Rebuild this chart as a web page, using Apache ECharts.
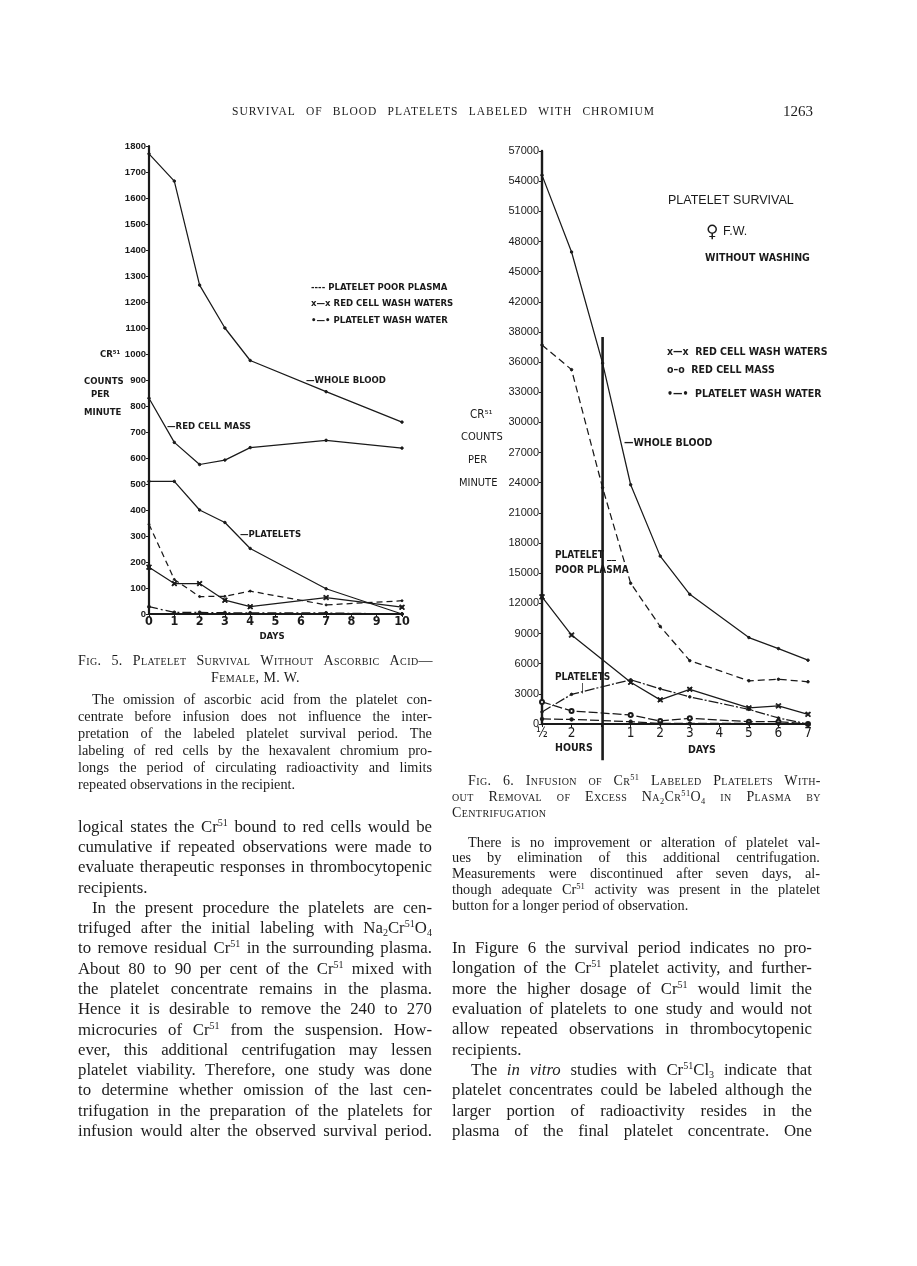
<!DOCTYPE html>
<html><head><meta charset="utf-8">
<script src="https://cdn.jsdelivr.net/npm/echarts@6/dist/echarts.min.js"></script>
<style>
html,body{margin:0;padding:0;background:#fff;}
#page{position:relative;width:917px;height:1266px;overflow:hidden;background:#fff;}
#chart{position:absolute;left:0;top:0;width:917px;height:1266px;}
.txt{position:absolute;font-family:"Liberation Serif","DejaVu Serif",serif;color:#1c1c1c;white-space:nowrap;}
.txt span{white-space:nowrap;}
sup{font-size:0.6em;vertical-align:0.6em;line-height:0;}
sub{font-size:0.6em;vertical-align:-0.3em;line-height:0;}
</style></head><body>
<div id="page"><div id="chart"></div><div id="text"></div></div>
<script>
// ---------------- Fig. 5 data ----------------
const fig5Days = [0, 1, 2, 3, 4, 7, 10];
const fig5WholeBlood = [1770, 1665, 1265, 1100, 975, 855, 738];
const fig5RedCellMass = [830, 660, 575, 592, 640, 668, 638];
const fig5Platelets = [510, 510, 400, 352, 252, 97, 0];
const fig5PoorPlasma = [345, 133, 67, 68, 88, 35, 51];
const fig5RedCellWash = [180, 117, 117, 53, 28, 63, 26];
const fig5PlateletWash = [28, 6, 6, 5, 4, 4, 0];
const fig5YLabels = ['0','100','200','300','400','500','600','700','800','900','1000','1100','1200','1300','1400','1500','1600','1700','1800'];
const fig5XLabels = ['0','1','2','3','4','5','6','7','8','9','10'];

// ---------------- Fig. 6 data ----------------
// x positions: 0 = 1/2 hour, 1 = 2 hours, separator, 3..9 = days 1..7
const fig6XTickPos = [0, 1, 3, 4, 5, 6, 7, 8, 9];
const fig6XTickLabels = ['½', '2', '1', '2', '3', '4', '5', '6', '7'];
const fig6SeparatorX = [2.05, 2.05];
const fig6SeparatorY = [38500, -3600];
const fig6EarlyX = [0, 1, 2.05, 3, 4, 5, 7, 8, 9];
const fig6WholeBlood = [54600, 46950, 35900, 23800, 16700, 12900, 8600, 7500, 6350];
const fig6PoorPlasma = [37700, 35250, 23500, 14000, 9700, 6300, 4300, 4450, 4200];
const fig6X = [0, 1, 3, 4, 5, 7, 8, 9];
const fig6RedCellWash = [12650, 8850, 4150, 2400, 3450, 1600, 1800, 960];
const fig6Platelets = [1200, 2950, 4400, 3500, 2700, 1450, 600, 0];
const fig6RedCellMass = [2200, 1300, 900, 300, 560, 230, 230, 0];
const fig6PlateletWash = [500, 460, 230, 50, 50, 50, 30, 0];
const fig6YLabels = ['0','3000','6000','9000','12000','15000','18000','21000','24000','27000','30000','33000','36000','38000','42000','45000','48000','51000','54000','57000'];

const INK = '#1a1a1a';
const NARROW = '"Liberation Sans Narrow","DejaVu Sans Condensed","Liberation Sans",sans-serif';
const SANS = '"Liberation Sans","DejaVu Sans",sans-serif';
const X_SYMBOL = 'path://M0,0L2,0L10,8L10,10L8,10L0,2Z M8,0L10,0L10,2L2,10L0,10L0,8Z';

function zip(xs, ys) { return xs.map((x, i) => [x, ys[i]]); }
function ser(name, g, xs, ys, type, symbol, size, extra) {
  return Object.assign({
    type: 'line', name: name, xAxisIndex: g, yAxisIndex: g,
    data: zip(xs, ys), symbol: symbol, symbolSize: size, showSymbol: symbol !== 'none',
    lineStyle: { color: INK, width: 1.25, type: type },
    itemStyle: { color: INK, borderColor: INK, borderWidth: 1 },
    emphasis: { disabled: true }, silent: true, animation: false, z: 3
  }, extra || {});
}
function lbl(x, y, text, font, align) {
  return { type: 'text', x: x, y: y, silent: true,
    style: { text: text, font: font, fill: INK, align: align || 'left', verticalAlign: 'middle' } };
}

const chart = echarts.init(document.getElementById('chart'));
const option = {
  backgroundColor: 'transparent',
  animation: false,
  grid: [
    { left: 149, top: 146, width: 253, height: 468 },
    { left: 542, top: 151, width: 266, height: 573 }
  ],
  xAxis: [
    { gridIndex: 0, type: 'value', min: 0, max: 10, interval: 1,
      axisLine: { lineStyle: { color: INK, width: 2 } },
      axisTick: { show: true, length: 3, lineStyle: { color: INK } },
      splitLine: { show: false },
      axisLabel: { margin: 1, color: INK, fontFamily: NARROW, fontWeight: 'bold', fontSize: 12.5,
        formatter: v => fig5XLabels[Math.round(v)] || '' } },
    { gridIndex: 1, type: 'value', min: 0, max: 9, interval: 1,
      axisLine: { lineStyle: { color: INK, width: 2 } },
      axisTick: { show: true, length: 3, lineStyle: { color: INK } },
      splitLine: { show: false },
      axisLabel: { margin: 2, color: INK, fontFamily: NARROW, fontSize: 13.5,
        formatter: v => { const i = fig6XTickPos.indexOf(Math.round(v * 100) / 100); return i >= 0 ? fig6XTickLabels[i] : ''; } } }
  ],
  yAxis: [
    { gridIndex: 0, type: 'value', min: 0, max: 1800, interval: 100,
      axisLine: { show: true, lineStyle: { color: INK, width: 2.2 } },
      axisTick: { show: true, length: 3, lineStyle: { color: INK } },
      splitLine: { show: false },
      axisLabel: { margin: 3, color: INK, fontFamily: SANS, fontWeight: 'bold', fontSize: 9.5,
        formatter: v => fig5YLabels[Math.round(v / 100)] || '' } },
    { gridIndex: 1, type: 'value', min: 0, max: 57000, interval: 3000,
      axisLine: { show: true, lineStyle: { color: INK, width: 2.4 } },
      axisTick: { show: true, length: 3, lineStyle: { color: INK } },
      splitLine: { show: false },
      axisLabel: { margin: 3, color: INK, fontFamily: SANS, fontSize: 11,
        formatter: v => fig6YLabels[Math.round(v / 3000)] || '' } }
  ],
  series: [
    ser('WHOLE BLOOD', 0, fig5Days, fig5WholeBlood, 'solid', 'circle', 2.5),
    ser('RED CELL MASS', 0, fig5Days, fig5RedCellMass, 'solid', 'circle', 2.5),
    ser('PLATELETS', 0, fig5Days, fig5Platelets, 'solid', 'circle', 2.5),
    ser('PLATELET POOR PLASMA', 0, fig5Days, fig5PoorPlasma, [6, 4], 'circle', 2),
    ser('RED CELL WASH WATERS', 0, fig5Days, fig5RedCellWash, 'solid', X_SYMBOL, 4.5),
    ser('PLATELET WASH WATER', 0, fig5Days, fig5PlateletWash, [9, 3, 2, 3], 'circle', 3),

    ser('WHOLE BLOOD', 1, fig6EarlyX, fig6WholeBlood, 'solid', 'circle', 2.5),
    ser('PLATELET POOR PLASMA', 1, fig6EarlyX, fig6PoorPlasma, [7, 4], 'circle', 2.5),
    ser('RED CELL WASH WATERS', 1, fig6X, fig6RedCellWash, 'solid', X_SYMBOL, 4.5),
    ser('PLATELETS', 1, fig6X, fig6Platelets, [10, 2, 2, 2], 'circle', 2.5),
    ser('RED CELL MASS', 1, fig6X, fig6RedCellMass, [9, 3], 'emptyCircle', 4),
    ser('PLATELET WASH WATER', 1, fig6X, fig6PlateletWash, [9, 3], 'circle', 3.5),
    ser('separator', 1, fig6SeparatorX, fig6SeparatorY, 'solid', 'none', 0,
      { clip: false, lineStyle: { color: INK, width: 2.6, type: 'solid' }, z: 4 })
  ],
  graphic: [
    // Fig. 5 annotations
    lbl(311, 288, '---- PLATELET POOR PLASMA', 'bold 9.5px ' + NARROW),
    lbl(311, 304, 'x—x RED CELL WASH WATERS', 'bold 9.5px ' + NARROW),
    lbl(311, 321, '•—• PLATELET WASH WATER', 'bold 9.5px ' + NARROW),
    lbl(306, 381, '—WHOLE BLOOD', 'bold 9.5px ' + NARROW),
    lbl(167, 427, '—RED CELL MASS', 'bold 9.5px ' + NARROW),
    lbl(240, 535, '—PLATELETS', 'bold 9.5px ' + NARROW),
    lbl(272, 637, 'DAYS', 'bold 9.5px ' + NARROW, 'center'),
    lbl(100, 355, 'CR⁵¹', 'bold 9.5px ' + NARROW),
    lbl(84, 382, 'COUNTS', 'bold 9.5px ' + NARROW),
    lbl(91, 395, 'PER', 'bold 9.5px ' + NARROW),
    lbl(84, 413, 'MINUTE', 'bold 9.5px ' + NARROW),
    // Fig. 6 annotations
    lbl(668, 201, 'PLATELET SURVIVAL', '12.5px ' + SANS),
    lbl(706, 233, '♀', 'bold 17px "DejaVu Sans",sans-serif'),
    lbl(723, 232, 'F.W.', '12.5px ' + SANS),
    lbl(705, 258, 'WITHOUT WASHING', 'bold 10.5px ' + NARROW),
    lbl(667, 352, 'x—x  RED CELL WASH WATERS', 'bold 10.5px ' + NARROW),
    lbl(667, 370, 'o–o  RED CELL MASS', 'bold 10.5px ' + NARROW),
    lbl(667, 394, '•—•  PLATELET WASH WATER', 'bold 10.5px ' + NARROW),
    lbl(624, 443, '—WHOLE BLOOD', 'bold 10.5px ' + NARROW),
    lbl(555, 555, 'PLATELET __', 'bold 10px ' + NARROW),
    lbl(555, 570, 'POOR PLASMA', 'bold 10px ' + NARROW),
    lbl(555, 677, 'PLATELETS', 'bold 10px ' + NARROW),
    lbl(581, 688, '|', '10px ' + NARROW),
    lbl(555, 748, 'HOURS', 'bold 10.5px ' + NARROW),
    lbl(688, 750, 'DAYS', 'bold 10.5px ' + NARROW),
    lbl(470, 415, 'CR⁵¹', '11.5px ' + NARROW),
    lbl(461, 437, 'COUNTS', '11px ' + NARROW),
    lbl(468, 460, 'PER', '11px ' + NARROW),
    lbl(459, 483, 'MINUTE', '11px ' + NARROW)
  ]
};
chart.setOption(option);

// ---------------- page text ----------------
const host = document.getElementById('text');
function block(spec) {
  spec.lines.forEach((raw, i) => {
    let h = raw, indent = 0, mode = 'justify';
    if (h.startsWith('>')) { indent = spec.indent || 14; h = h.slice(1); }
    if (h.endsWith('|')) { mode = 'left'; h = h.slice(0, -1); }
    if (h.startsWith('^')) { mode = 'center'; h = h.slice(1); }
    const d = document.createElement('div');
    d.className = 'txt';
    const cy = spec.y + i * spec.lh;
    d.style.top = (cy - spec.lh / 2 - 1) + 'px';
    d.style.height = spec.lh + 'px';
    d.style.lineHeight = spec.lh + 'px';
    d.style.fontSize = spec.fs + 'px';
    if (spec.variant) { d.style.fontVariant = 'small-caps'; }
    if (spec.ls) { d.style.letterSpacing = spec.ls + 'px'; }
    const x0 = spec.x + indent;
    d.style.left = x0 + 'px';
    if (mode === 'justify') {
      d.style.width = (spec.right - x0) + 'px';
      d.style.display = 'flex';
      d.style.justifyContent = 'space-between';
      d.style.columnGap = '0.18em';
      d.innerHTML = h.split(' ').filter(w => w.length).map(w => '<span>' + w + '</span>').join('');
    } else if (mode === 'center') {
      d.style.left = spec.x + 'px';
      d.style.width = (spec.right - spec.x) + 'px';
      d.style.textAlign = 'center';
      d.innerHTML = h;
    } else {
      d.innerHTML = h;
    }
    host.appendChild(d);
  });
}

block({ x: 232, right: 655, y: 112, lh: 16, fs: 11.5, ls: 1.0,
  lines: ['SURVIVAL OF BLOOD PLATELETS LABELED WITH CHROMIUM'] });
block({ x: 783, right: 820, y: 112, lh: 18, fs: 15, lines: ['1263|'] });

block({ x: 78, right: 433, y: 661, lh: 17, fs: 14, variant: true, ls: 0.4,
  lines: ['Fig. 5.  Platelet Survival Without Ascorbic Acid—', '^Female, M. W.'] });
block({ x: 78, right: 432, y: 700.5, lh: 16.9, fs: 14.3, indent: 14,
  lines: ['>The omission of ascorbic acid from the platelet con-',
          'centrate before infusion does not influence the inter-',
          'pretation of the labeled platelet survival period.  The',
          'labeling of red cells by the hexavalent chromium pro-',
          'longs the period of circulating radioactivity and limits',
          'repeated observations in the recipient.|'] });

block({ x: 452, right: 821, y: 782, lh: 16.1, fs: 14, variant: true, ls: 0.4, indent: 16,
  lines: ['>Fig. 6.  Infusion of Cr<sup>51</sup> Labeled Platelets With-',
          'out Removal of Excess Na<sub>2</sub>Cr<sup>51</sup>O<sub>4</sub> in Plasma by',
          'Centrifugation|'] });
block({ x: 452, right: 820, y: 843.5, lh: 15.9, fs: 14.3, indent: 16,
  lines: ['>There is no improvement or alteration of platelet val-',
          'ues by elimination of this additional centrifugation.',
          'Measurements were discontinued after seven days, al-',
          'though adequate Cr<sup>51</sup> activity was present in the platelet',
          'button for a longer period of observation.|'] });

block({ x: 78, right: 432, y: 828, lh: 20.27, fs: 16.8, indent: 14,
  lines: ['logical states the Cr<sup>51</sup> bound to red cells would be',
          'cumulative if repeated observations were made to',
          'evaluate therapeutic responses in thrombocytopenic',
          'recipients.|',
          '>In the present procedure the platelets are cen-',
          'trifuged after the initial labeling with Na<sub>2</sub>Cr<sup>51</sup>O<sub>4</sub>',
          'to remove residual Cr<sup>51</sup> in the surrounding plasma.',
          'About 80 to 90 per cent of the Cr<sup>51</sup> mixed with',
          'the platelet concentrate remains in the plasma.',
          'Hence it is desirable to remove the 240 to 270',
          'microcuries of Cr<sup>51</sup> from the suspension. How-',
          'ever, this additional centrifugation may lessen',
          'platelet viability. Therefore, one study was done',
          'to determine whether omission of the last cen-',
          'trifugation in the preparation of the platelets for',
          'infusion would alter the observed survival period.'] });

block({ x: 452, right: 812, y: 949, lh: 20.37, fs: 16.8, indent: 19,
  lines: ['In Figure 6 the survival period indicates no pro-',
          'longation of the Cr<sup>51</sup> platelet activity, and further-',
          'more the higher dosage of Cr<sup>51</sup> would limit the',
          'evaluation of platelets to one study and would not',
          'allow repeated observations in thrombocytopenic',
          'recipients.|',
          '>The <i>in</i> <i>vitro</i> studies with Cr<sup>51</sup>Cl<sub>3</sub> indicate that',
          'platelet concentrates could be labeled although the',
          'larger portion of radioactivity resides in the',
          'plasma of the final platelet concentrate. One'] });
</script>
</body></html>
